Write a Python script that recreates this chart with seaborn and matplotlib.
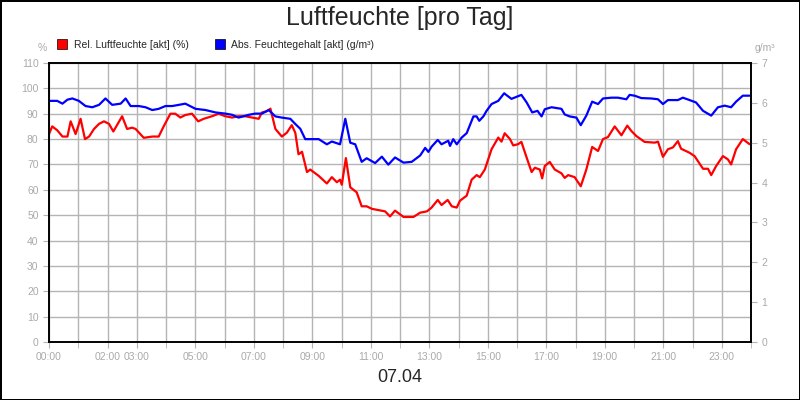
import matplotlib
matplotlib.use("Agg")
import matplotlib.pyplot as plt
import seaborn as sns
import pandas as pd
from matplotlib.lines import Line2D

red_h = [0.00,0.11,0.28,0.46,0.63,0.74,0.91,1.08,1.23,1.37,1.54,1.71,1.88,2.05,2.20,2.50,2.67,2.84,2.96,3.24,3.53,3.75,3.92,4.15,4.32,4.49,4.66,4.89,5.10,5.29,5.57,5.80,6.03,6.26,6.48,6.71,6.94,7.17,7.28,7.45,7.57,7.74,7.96,8.13,8.30,8.42,8.53,8.65,8.82,8.93,9.22,9.50,9.67,9.84,9.95,10.01,10.15,10.30,10.52,10.69,10.86,11.04,11.26,11.49,11.66,
         11.83,12.12,12.46,12.69,12.92,13.08,13.29,13.42,13.63,13.77,13.94,14.05,14.28,14.45,14.62,14.73,14.90,15.13,15.36,15.47,15.58,15.76,15.87,16.04,16.15,16.33,16.50,16.61,16.78,16.86,16.95,17.12,17.29,17.52,17.63,17.75,17.97,18.18,18.37,18.57,18.77,18.94,19.11,19.34,19.57,19.77,19.91,20.08,20.36,20.71,20.82,20.99,21.16,21.33,21.50,21.61,21.90,22.07,22.36,22.53,22.64,22.81,23.04,23.21,23.32,23.49,23.72,23.95]
red_v = [82,85,83.5,81,81,87,82,88,80,81,84,86,87,86,83,89,84,84.5,84,80.5,81,81,85,90,90,88.5,89.5,90,87,88,89,90,89,88.5,89,89,88.5,88,90.5,91,92,84,81,82.5,85.5,82.5,74,75,67,68,65.5,62.5,65,63,64,62,72.5,61,59,53.5,53.5,52.5,52,51.5,49.5,
         51.8,49.3,49.3,51,51.5,53,56,54,56,53.5,53,55.7,57.7,64,65.8,65,68,76,80.6,79,82.3,80,77.5,78,78.9,72.7,67,68.7,68,64.5,69.4,71,68,66.5,64.7,65.8,65,61.4,68,76.9,75.3,80,80.8,85,81.5,85.3,83.2,81.2,78.9,78.6,79,73,76,76.7,79.2,76.2,74.6,73.3,68.3,68.3,65.8,69.4,73.3,72,70,76,80,78]

blue_h = [0.00,0.28,0.46,0.63,0.80,1.02,1.25,1.48,1.71,1.93,2.16,2.45,2.62,2.79,3.07,3.30,3.53,3.75,3.98,4.21,4.44,4.66,5.01,5.35,5.69,6.03,6.26,6.48,6.83,7.05,7.28,7.51,7.74,7.96,8.25,8.42,8.59,8.76,8.99,9.22,9.50,9.67,9.95,10.13,10.30,10.47,10.69,10.86,11.15,11.38,11.60,
          11.83,12.12,12.40,12.69,12.86,12.97,13.08,13.29,13.42,13.65,13.71,13.82,13.94,14.11,14.28,14.51,14.62,14.71,14.85,14.96,15.13,15.36,15.56,15.81,16.15,16.33,16.52,16.70,16.84,16.95,17.18,17.52,17.63,17.80,18.03,18.18,18.37,18.57,18.77,18.94,19.23,19.45,19.74,19.85,20.02,20.25,20.59,20.82,20.99,21.16,21.50,21.67,21.90,22.12,22.36,22.64,22.87,23.10,23.32,23.49,23.72,23.95]
blue_v = [6.05,6.05,5.98,6.08,6.11,6.05,5.92,5.89,5.95,6.11,5.95,5.98,6.11,5.92,5.92,5.89,5.82,5.85,5.92,5.92,5.95,5.98,5.85,5.82,5.76,5.73,5.70,5.63,5.70,5.73,5.73,5.82,5.66,5.63,5.60,5.47,5.35,5.09,5.09,5.09,4.96,5.03,4.96,5.60,5.00,4.96,4.52,4.61,4.49,4.65,4.45,
          4.63,4.50,4.52,4.68,4.87,4.77,4.90,5.07,4.96,5.05,4.92,5.09,4.96,5.13,5.24,5.66,5.66,5.55,5.66,5.80,5.97,6.05,6.24,6.10,6.20,6.01,5.76,5.80,5.66,5.84,5.89,5.85,5.71,5.66,5.63,5.44,5.68,6.03,5.97,6.11,6.13,6.13,6.09,6.20,6.18,6.12,6.11,6.09,5.97,6.07,6.07,6.13,6.07,6.01,5.80,5.68,5.89,5.93,5.89,6.03,6.18,6.18]

tick_hours = [0,2,3,5,7,9,11,13,15,17,19,21,23]
tick_labels = ["00:00","02:00","03:00","05:00","07:00","09:00","11:00","13:00","15:00","17:00","19:00","21:00","23:00"]

sns.set_style("white")
plt.rcParams['font.family'] = ['Liberation Sans', 'DejaVu Sans']

fig = plt.figure(figsize=(8, 4), dpi=100)
fig.patch.set_edgecolor('black'); fig.patch.set_linewidth(2)
ax = fig.add_axes([49/800, 58/400, 702/800, 279/400])
ax2 = ax.twinx()

red_df = pd.DataFrame({"h": red_h, "v": red_v})
blue_df = pd.DataFrame({"h": blue_h, "v": blue_v})
sns.lineplot(data=red_df, x="h", y="v", ax=ax, color="#ff0000", lw=1.6)
sns.lineplot(data=blue_df, x="h", y="v", ax=ax2, color="#0000ff", lw=1.6)

gray = "#b4b4b4"
ax.set_xlim(0, 24); ax.set_ylim(0, 110); ax2.set_ylim(0, 7)
ax.set_yticks(range(0, 111, 10)); ax2.set_yticks(range(0, 8))
ax.set_xticks(range(0, 25), minor=True)
ax.set_xticks(tick_hours); ax.set_xticklabels(tick_labels)
ax.grid(True, which='both', axis='x', color=gray, lw=1)
ax.grid(True, which='major', axis='y', color=gray, lw=1)
ax.set_axisbelow(True)
for a in (ax, ax2):
    a.set_xlabel(""); a.set_ylabel("")
    for s in a.spines.values():
        s.set_color('black'); s.set_linewidth(1.2)
    a.tick_params(labelsize=7.5, labelcolor="#aaaaaa", color=gray, length=4, which='both')
ax.tick_params(axis='x', which='both', bottom=True, direction='out')
ax.tick_params(axis='y', left=True)
ax2.tick_params(axis='y', right=True)

fig.text(0.5, 0.955, "Luftfeuchte [pro Tag]", ha='center', va='center', fontsize=18)
fig.text(0.5, 0.055, "07.04", ha='center', va='center', fontsize=13)
fig.text(42/800, 1-48/400, "%", ha='center', va='center', fontsize=7.5, color="#aaaaaa")
fig.text(765/800, 1-48/400, "g/m³", ha='center', va='center', fontsize=7.5, color="#aaaaaa")
handles = [Line2D([], [], marker='s', ls='', color='#ff0000', mec='black', mew=0.5, ms=7),
           Line2D([], [], marker='s', ls='', color='#0000ff', mec='black', mew=0.5, ms=7)]
fig.legend(handles, ["Rel. Luftfeuchte [akt] (%)", "Abs. Feuchtegehalt [akt] (g/m³)"],
           loc='center left', bbox_to_anchor=(52/800, 1-45/400), ncol=2, frameon=False,
           fontsize=7.5, handletextpad=0.1, columnspacing=2, borderaxespad=0, borderpad=0)
fig.savefig("out.png", dpi=100)
